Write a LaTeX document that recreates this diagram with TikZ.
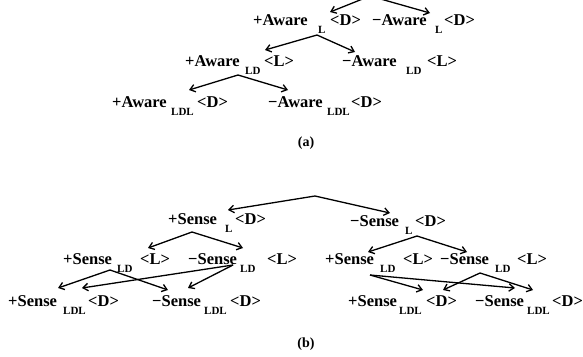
\documentclass[tikz,border=0pt]{standalone}
\usepackage{fontspec}
\setmainfont{Liberation Serif}
\usetikzlibrary{arrows.meta}
\newcommand{\mklab}[8]{%
  \node[wd] (#1) at (#3,#2) {#4};
  \node[sb] (#1s) at (#5,#2+8) {#6};
  \node[wd] (#1t) at (#7,#2) {#8};}
\begin{document}
\begin{tikzpicture}[x=1pt,y=-1pt,
  wd/.style={inner sep=0pt, anchor=base west, font=\fontsize{16.5}{18}\selectfont\bfseries},
  sb/.style={inner sep=0pt, anchor=base west, font=\fontsize{11}{12}\selectfont\bfseries},
  captxt/.style={inner sep=0pt, font=\fontsize{14}{16}\selectfont\bfseries},
  arr/.style={line width=1.3pt, -{Straight Barb[length=5pt,width=7.5pt]}}]
\clip (0,0) rectangle (583,356);
% ---------- (a) ----------
\mklab{aL}{25}{253}{+Aware}{318}{L}{330}{<D>}
\mklab{aR}{25}{372}{−Aware}{435}{L}{444}{<D>}
\mklab{aLD}{66}{185}{+Aware}{245}{LD}{264}{<L>}
\mklab{aRD}{66}{342}{−Aware}{406}{LD}{427}{<L>}
\mklab{aLDL}{107}{112}{+Aware}{171}{LDL}{197}{<D>}
\mklab{aRDL}{107}{268}{−Aware}{327}{LDL}{351}{<D>}
\node[captxt] (capa) at (306,143) {(a)};
\coordinate (a0) at (370,-4);
\coordinate (a0l) at (330,12);
\coordinate (a0r) at (430,13);
\coordinate (a1) at (317,35);
\coordinate (a1l) at (265,50);
\coordinate (a1r) at (355,52);
\coordinate (a2) at (238,75);
\coordinate (a2l) at (189,90);
\coordinate (a2r) at (288,90);
\draw[arr] (a0) -- (a0l);
\draw[arr] (a0) -- (a0r);
\draw[arr] (a1) -- (a1l);
\draw[arr] (a1) -- (a1r);
\draw[arr] (a2) -- (a2l);
\draw[arr] (a2) -- (a2r);
% ---------- (b) ----------
\mklab{bL}{224}{168}{+Sense}{225}{L}{235}{<D>}
\mklab{bR}{226}{350}{−Sense}{405}{L}{415}{<D>}
\mklab{bLP}{264}{63}{+Sense}{117}{LD}{140}{<L>}
\mklab{bLM}{264}{188}{−Sense}{240}{LD}{267}{<L>}
\mklab{bRP}{264}{325}{+Sense}{380}{LD}{403}{<L>}
\mklab{bRM}{264}{440}{−Sense}{495}{LD}{517}{<L>}
\mklab{bLPL}{306}{8}{+Sense}{63}{LDL}{88}{<D>}
\mklab{bLML}{306}{152}{−Sense}{204}{LDL}{230}{<D>}
\mklab{bRPL}{306}{348}{+Sense}{399}{LDL}{426}{<D>}
\mklab{bRML}{306}{475}{−Sense}{527}{LDL}{552}{<D>}
\node[captxt] (capb) at (306,344) {(b)};
\coordinate (b0) at (315,196);
\coordinate (b0l) at (228,210);
\coordinate (b0r) at (390,213);
\coordinate (b1) at (192,232);
\coordinate (b1l) at (148,248);
\coordinate (b1r) at (243,248);
\coordinate (b2) at (417,236);
\coordinate (b2l) at (368,252);
\coordinate (b2r) at (467,252);
\coordinate (b3) at (110,270);
\coordinate (b3l) at (58,288);
\coordinate (b3r) at (168,290);
\coordinate (b4) at (233,265);
\coordinate (b4l) at (188,288);
\coordinate (b4ll) at (82,288);
\coordinate (b5) at (370,275);
\coordinate (b5s) at (423,290);
\coordinate (b5l) at (515,288);
\coordinate (b6) at (480,273);
\coordinate (b6l) at (443,290);
\coordinate (b6r) at (533,290);
\draw[arr] (b0) -- (b0l);
\draw[arr] (b0) -- (b0r);
\draw[arr] (b1) -- (b1l);
\draw[arr] (b1) -- (b1r);
\draw[arr] (b2) -- (b2l);
\draw[arr] (b2) -- (b2r);
\draw[arr] (b3) -- (b3l);
\draw[arr] (b3) -- (b3r);
\draw[arr] (b4) -- (b4l);
\draw[arr] (b4) -- (b4ll);
\draw[arr] (b5) -- (b5s);
\draw[arr] (b5) -- (b5l);
\draw[arr] (b6) -- (b6l);
\draw[arr] (b6) -- (b6r);
\end{tikzpicture}
\end{document}
